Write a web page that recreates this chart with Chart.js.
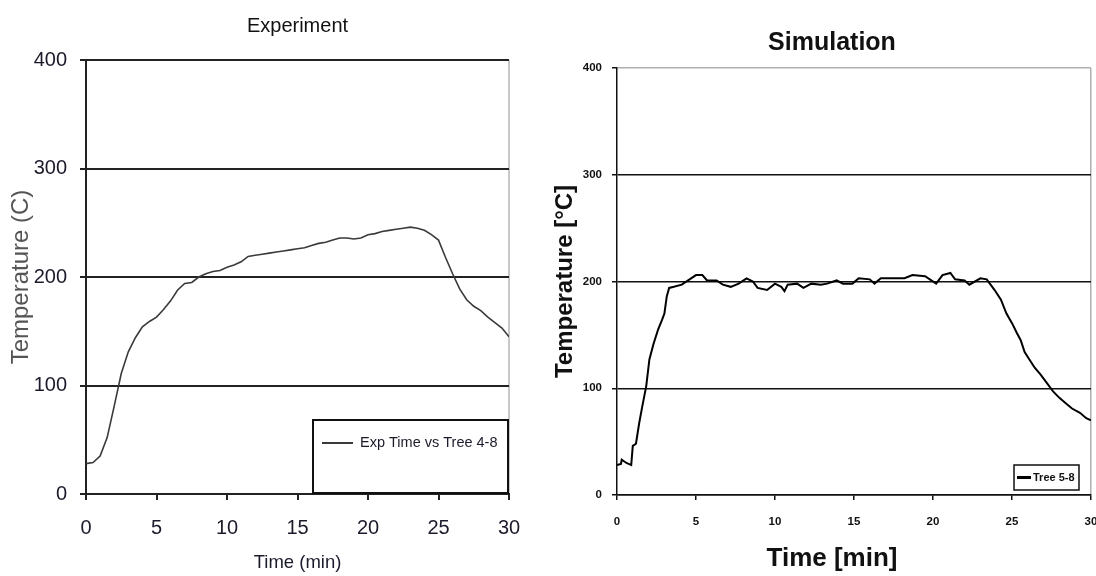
<!DOCTYPE html>
<html><head><meta charset="utf-8">
<script src="https://cdn.jsdelivr.net/npm/chart.js@4.4.0/dist/chart.umd.min.js"></script>
<style>
html,body{margin:0;padding:0;background:#fff;overflow:hidden;width:1096px;height:576px;}
#c1{position:absolute;left:0;top:0;width:540px;height:576px;}
#c2{position:absolute;left:540px;top:0;width:584px;height:576px;}
</style></head><body>
<canvas id="c1" width="540" height="576"></canvas>
<canvas id="c2" width="584" height="576"></canvas>
<script>
// ---- data ----
const expTime = [0,0.5,1,1.5,2,2.5,3,3.5,4,4.5,5,5.5,6,6.5,7,7.5,8,8.5,9,9.5,10,10.5,11,11.5,12,12.5,13,13.5,14,14.5,15,15.5,16,16.5,17,17.5,18,18.5,19,19.5,20,20.5,21,21.5,22,22.5,23,23.5,24,24.5,25,25.5,26,26.5,27,27.5,28,28.5,29,29.5,30];
const expTemp = [28,29,35,52,81,111,131,144,154,159,163,170,178,188,194,195,200,203,205,206,209,211,214,219,220,221,222,223,224,225,226,227,229,231,232,234,236,236,235,236,239,240,242,243,244,245,246,245,243,239,234,218,203,189,179,173,169,163,158,153,145];
const simTime = [0,0.25,0.3,0.6,0.9,1.0,1.2,1.4,1.6,1.85,2.05,2.3,2.6,2.85,3.0,3.15,3.3,3.6,4.1,4.5,5.0,5.4,5.7,6.3,6.7,7.2,7.7,8.2,8.6,8.9,9.5,10.0,10.4,10.6,10.8,11.4,11.8,12.3,12.9,13.3,13.9,14.3,14.9,15.3,16.0,16.3,16.7,17.3,18.2,18.7,19.5,20.2,20.6,21.1,21.4,22.0,22.3,23.0,23.4,23.9,24.3,24.65,25.0,25.3,25.55,25.8,26.1,26.45,26.8,27.2,27.6,28.0,28.4,28.8,29.3,29.7,30];
const simTemp = [28,29,33,30,28,46,48,67,83,102,127,141,155,164,170,186,194,195,197,201,206,206,201,201,197,195,198,203,200,194,192,198,195,191,197,198,194,198,197,198,201,198,198,203,202,198,203,203,203,206,205,198,206,208,202,201,197,203,202,192,183,170,161,152,145,134,127,119,113,105,97,91,86,81,77,72,70];
const xTicks = [0,5,10,15,20,25,30];
const yTicks = [0,100,200,300,400];
const expLabel = 'Exp Time vs Tree 4-8';
const simLabel = 'Tree 5-8';

const SANS = "'Liberation Sans',Arial,sans-serif";

function pts(xs, ys){ return xs.map((x,i)=>({x:x, y:ys[i]})); }

const legendBox = {
  id: 'legendBox',
  afterDraw(chart, args, o) {
    const ctx = chart.ctx;
    const ds = chart.data.datasets[0];
    ctx.save();
    ctx.fillStyle = '#fff';
    ctx.fillRect(o.x, o.y, o.w, o.h);
    ctx.lineWidth = o.border;
    ctx.strokeStyle = '#111';
    ctx.strokeRect(o.x, o.y, o.w, o.h);
    ctx.beginPath();
    ctx.moveTo(o.lx1, o.ly); ctx.lineTo(o.lx2, o.ly);
    ctx.lineWidth = o.lineW; ctx.strokeStyle = ds.borderColor; ctx.stroke();
    ctx.font = o.font; ctx.fillStyle = o.color;
    ctx.textBaseline = 'middle'; ctx.textAlign = 'left';
    ctx.fillText(ds.label, o.tx, o.ly);
    ctx.restore();
  }
};

function fixedTicks(arr){ return s => { s.ticks = arr.map(v => ({value: v})); }; }

// ---- left chart: Experiment ----
new Chart(document.getElementById('c1'), {
  type: 'line',
  data: { datasets: [{ label: expLabel, data: pts(expTime, expTemp), borderColor: '#3a3a3a', borderWidth: 1.6, pointRadius: 0, tension: 0, fill: false }] },
  plugins: [legendBox],
  options: {
    responsive: false, animation: false, devicePixelRatio: 1,
    layout: { padding: { left: 0, right: 31, top: 0, bottom: 0 } },
    plugins: {
      legend: { display: false }, tooltip: { enabled: false },
      title: { display: true, text: 'Experiment', fullSize: false, color: '#111',
        font: { family: SANS, size: 20, weight: 'normal', lineHeight: '24px' }, padding: { top: 14, bottom: 22 } },
      legendBox: { x: 313, y: 420, w: 195, h: 73, border: 2, lx1: 322, lx2: 353, ly: 443, lineW: 2,
        tx: 360, font: "14.5px " + SANS, color: '#1b1b2b' }
    },
    scales: {
      x: { type: 'linear', min: 0, max: 30, afterBuildTicks: fixedTicks(xTicks),
        afterFit: s => { s.height = 82; },
        grid: { color: c => c.tick && c.tick.value === 30 ? '#c8c8c8' : 'rgba(0,0,0,0)', lineWidth: 2, tickLength: 6, tickColor: '#222', tickWidth: 2 },
        border: { display: true, color: '#222', width: 2 },
        ticks: { color: '#1b1b2b', font: { family: SANS, size: 20 }, padding: 16, maxRotation: 0 },
        title: { display: true, text: 'Time (min)', color: '#1b1b2b', font: { family: SANS, size: 18.5, lineHeight: '24px' }, padding: { top: 0, bottom: 1 } }
      },
      y: { min: 0, max: 400, afterBuildTicks: fixedTicks(yTicks),
        afterFit: s => { s.width = 86; },
        grid: { color: '#222', lineWidth: 2, tickLength: 6, tickColor: '#222', tickWidth: 2 },
        border: { display: true, color: '#222', width: 2 },
        ticks: { color: '#1b1b2b', font: { family: SANS, size: 20 }, padding: 13 },
        title: { display: true, text: 'Temperature (C)', color: '#555', font: { family: SANS, size: 24, lineHeight: '26px' }, padding: { top: 8, bottom: 0 } }
      }
    }
  }
});

// ---- right chart: Simulation ----
new Chart(document.getElementById('c2'), {
  type: 'line',
  data: { datasets: [{ label: simLabel, data: pts(simTime, simTemp), borderColor: '#000', borderWidth: 2, pointRadius: 0, tension: 0, fill: false }] },
  plugins: [legendBox],
  options: {
    responsive: false, animation: false, devicePixelRatio: 1,
    layout: { padding: 0 },
    plugins: {
      legend: { display: false }, tooltip: { enabled: false },
      title: { display: true, text: 'Simulation', color: '#111',
        font: { family: SANS, size: 25, weight: 'bold', lineHeight: '28px' }, padding: { top: 29, bottom: 11 } },
      subtitle: { display: true, position: 'bottom', text: 'Time [min]', color: '#111',
        font: { family: SANS, size: 26, weight: 'bold', lineHeight: '28px' }, padding: { top: 8, bottom: 3 } },
      legendBox: { x: 474, y: 465, w: 65, h: 25, border: 1.5, lx1: 477, lx2: 491, ly: 477.5, lineW: 3,
        tx: 493, font: "bold 11px " + SANS, color: '#111' }
    },
    scales: {
      x: { type: 'linear', min: 0, max: 30, afterBuildTicks: fixedTicks(xTicks),
        afterFit: s => { s.height = 42; },
        grid: { color: c => c.tick && c.tick.value === 30 ? '#b0b0b0' : 'rgba(0,0,0,0)', lineWidth: 1.5, tickLength: 5, tickColor: '#111', tickWidth: 1.5 },
        border: { display: true, color: '#111', width: 1.5 },
        ticks: { color: '#111', font: { family: SANS, size: 11.5, weight: 'bold' }, padding: 15, maxRotation: 0 }
      },
      y: { min: 0, max: 400, afterBuildTicks: fixedTicks(yTicks),
        afterFit: s => { s.width = 77; },
        grid: { color: c => c.tick && c.tick.value === 400 ? '#b0b0b0' : '#111', lineWidth: 1.5, tickLength: 5, tickColor: '#111', tickWidth: 1.5 },
        border: { display: true, color: '#111', width: 1.5 },
        ticks: { color: '#111', font: { family: SANS, size: 11.5, weight: 'bold' }, padding: 10 },
        title: { display: true, text: 'Temperature [°C]', color: '#111', font: { family: SANS, size: 24, weight: 'bold', lineHeight: '26px' }, padding: { top: 12, bottom: 0 } }
      },
      yRight: { position: 'right', display: true, afterFit: s => { s.width = 33; },
        grid: { display: false, drawOnChartArea: false }, ticks: { display: false }, border: { display: false } }
    }
  }
});
</script>
</body></html>
